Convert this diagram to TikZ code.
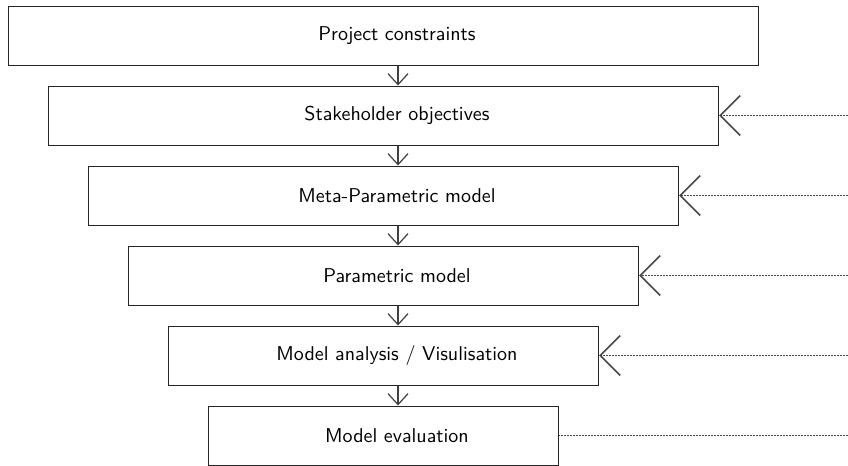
\documentclass[tikz,border=0pt]{standalone}
\usetikzlibrary{arrows.meta}
\begin{document}
\begin{tikzpicture}[x=0.5pt,y=-0.5pt,
  box/.style={draw=black!85, line width=0.5pt, minimum height=29.5pt, inner sep=0pt,
    font=\sffamily\fontsize{10}{12}\selectfont},
  down/.style={draw=black!75, line width=0.6pt, -{Straight Barb[length=5.5pt,width=10pt]}},
  feed/.style={draw=black!72, line width=0.85pt, dash pattern=on 0.8pt off 0.7pt,
    -{Straight Barb[length=10pt,width=20pt]}},
]
\useasboundingbox (0,0) rectangle (848,466);
\node[box, minimum width=375pt] (b1) at (383.5,35.5) {\hspace*{13.5pt}Project constraints};
\node[box, minimum width=335pt] (b2) at (383.5,115.5) {\hspace*{13.5pt}Stakeholder objectives};
\node[box, minimum width=295pt] (b3) at (383.5,195.5) {\hspace*{13.5pt}Meta-Parametric model};
\node[box, minimum width=255pt] (b4) at (383.5,275.5) {\hspace*{13.5pt}Parametric model};
\node[box, minimum width=215pt] (b5) at (383.5,355.5) {\hspace*{13.5pt}Model analysis / Visulisation};
\node[box, minimum width=175pt] (b6) at (383.5,435.5) {\hspace*{13.5pt}Model evaluation};
\foreach \a/\b in {b1/b2,b2/b3,b3/b4,b4/b5,b5/b6}
  \draw[down] ([xshift=7.25pt]\a.south) -- ([xshift=7.25pt]\b.north);
\coordinate (e2) at (848,115.5);
\coordinate (e3) at (848,195.5);
\coordinate (e4) at (848,275.5);
\coordinate (e5) at (848,355.5);
\coordinate (e6) at (848,435.5);
\foreach \n in {2,3,4,5}
  \draw[feed] (e\n) -- (b\n.east);
\draw[feed, -] (e6) -- (b6.east);
\end{tikzpicture}
\end{document}
